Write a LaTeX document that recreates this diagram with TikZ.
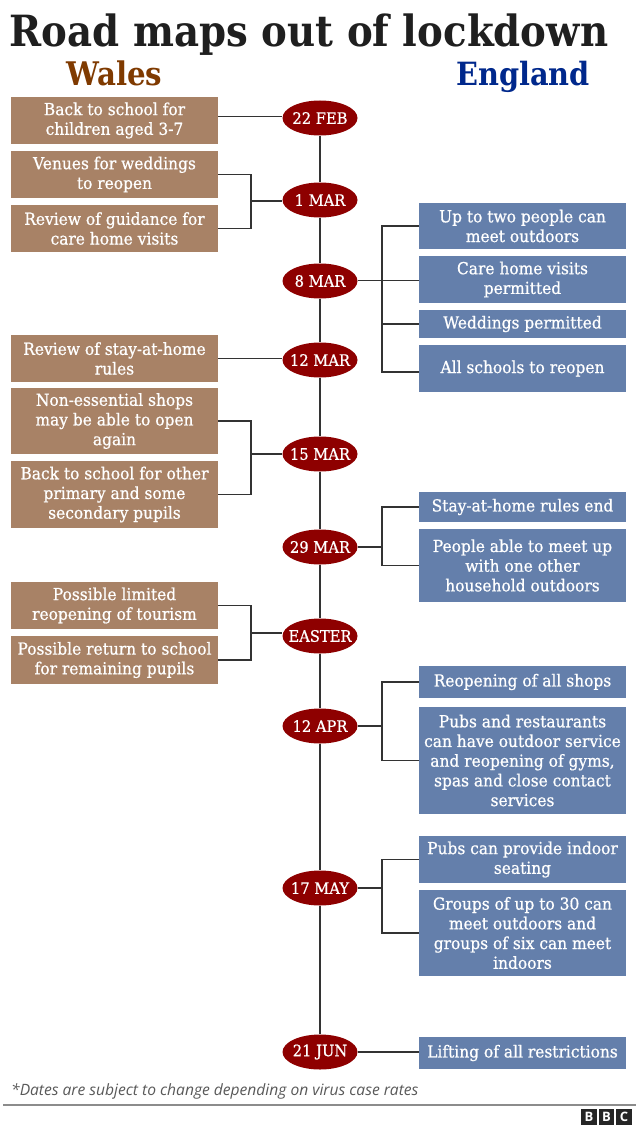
\documentclass[tikz,border=0pt]{standalone}
\usepackage{fontspec}
\setmainfont{DejaVu Serif}[FakeStretch=0.93,FakeBold=0.7]
\newfontfamily\headfont{DejaVu Serif Bold}[FakeStretch=0.9]
\setsansfont{Open Sans}
\usetikzlibrary{shapes.geometric}
\definecolor{tan}{HTML}{A88266}
\definecolor{slate}{HTML}{647FAB}
\definecolor{datered}{HTML}{8E0000}
\definecolor{linegrey}{HTML}{333333}
\definecolor{walesbrown}{HTML}{7F3A00}
\definecolor{engblue}{HTML}{00288C}
\newcommand{\dt}[1]{\makebox[0pt]{\raisebox{-0.6pt}{#1}}}
\tikzset{
  x=1pt,y=-1pt,
  boxbase/.style={anchor=center,inner sep=0pt,minimum width=207pt,align=center,text=white,
    font=\fontsize{16.6}{19.7}\selectfont},
  walesbox/.style={boxbase,fill=tan},
  engbox/.style={boxbase,fill=slate},
  datenode/.style={ellipse,fill=datered,text=white,inner sep=0pt,minimum width=75pt,minimum height=35pt,
    font=\fontsize{15.8}{18}\selectfont},
  conn/.style={draw=linegrey,line width=1.5pt},
  logosq/.style={fill=black!85,text=white,inner sep=0pt,minimum size=15.5pt,font=\sffamily\bfseries\fontsize{13}{13}\selectfont}
}
\begin{document}
\begin{tikzpicture}
\useasboundingbox (0,0) rectangle (640,1137);
\fill[white] (0,0) rectangle (640,1137);
\node (title) [anchor=base,text=black!88,font=\headfont\fontsize{43}{46}\selectfont] at (309,47) {Road maps out of lockdown};
\node (wales) [anchor=base,text=walesbrown,font=\headfont\fontsize{32.5}{36}\selectfont] at (114.5,86) {Wales};
\node (england) [anchor=base,text=engblue,font=\headfont\fontsize{32}{36}\selectfont] at (523,86) {England};

% dates
\node[datenode] (d1) at (320,118) {\dt{22 FEB}};
\node[datenode] (d2) at (320,200) {\dt{1 MAR}};
\node[datenode] (d3) at (320,281) {\dt{8 MAR}};
\node[datenode] (d4) at (320,360) {\dt{12 MAR}};
\node[datenode] (d5) at (320,454) {\dt{15 MAR}};
\node[datenode] (d6) at (320,547) {\dt{29 MAR}};
\node[datenode] (d7) at (320,636) {\dt{EASTER}};
\node[datenode] (d8) at (320,726) {\dt{12 APR}};
\node[datenode] (d9) at (320,888) {\dt{17 MAY}};
\node[datenode] (d10) at (320,1052) {\dt{21 JUN}};

% Wales boxes
\node[walesbox,minimum height=47pt] (w1) at (114.5,120.5) {Back to school for\\children aged 3-7};
\node[walesbox,minimum height=47pt] (w2) at (114.5,174.5) {Venues for weddings\\to reopen};
\node[walesbox,minimum height=47pt] (w3) at (114.5,228.5) {Review of guidance for\\care home visits};
\node[walesbox,minimum height=47pt] (w4) at (114.5,358.5) {Review of stay-at-home\\rules};
\node[walesbox,minimum height=66pt] (w5) at (114.5,421) {Non-essential shops\\may be able to open\\again};
\node[walesbox,minimum height=67pt] (w6) at (114.5,494.5) {Back to school for other\\primary and some\\secondary pupils};
\node[walesbox,minimum height=47pt] (w7) at (114.5,605.5) {Possible limited\\reopening of tourism};
\node[walesbox,minimum height=48pt] (w8) at (114.5,660) {Possible return to school\\for remaining pupils};

% England boxes
\node[engbox,minimum height=46pt] (e1) at (522.5,226) {Up to two people can\\meet outdoors};
\node[engbox,minimum height=47pt] (e2) at (522.5,279.5) {Care home visits\\permitted};
\node[engbox,minimum height=28pt] (e3) at (522.5,324) {Weddings permitted};
\node[engbox,minimum height=47pt] (e4) at (522.5,368.5) {All schools to reopen};
\node[engbox,minimum height=30pt] (e5) at (522.5,507) {Stay-at-home rules end};
\node[engbox,minimum height=73pt] (e6) at (522.5,565.5) {People able to meet up\\with one other\\household outdoors};
\node[engbox,minimum height=32pt] (e7) at (522.5,682) {Reopening of all shops};
\node[engbox,minimum height=107pt] (e8) at (522.5,760.5) {Pubs and restaurants\\can have outdoor service\\and reopening of gyms,\\spas and close contact\\services};
\node[engbox,minimum height=47pt] (e9) at (522.5,859.5) {Pubs can provide indoor\\seating};
\node[engbox,minimum height=86pt] (e10) at (522.5,933) {Groups of up to 30 can\\meet outdoors and\\groups of six can meet\\indoors};
\node[engbox,minimum height=32pt] (e11) at (522.5,1053) {Lifting of all restrictions};

% junctions
\coordinate (jw1) at (218,116.5);
\coordinate (jw2) at (251,201);
\coordinate (jw5) at (251,454);
\coordinate (jw7) at (251,633);
\coordinate (je3) at (382,280.5);
\coordinate (je4) at (419,372);
\coordinate (je6) at (382,547);
\coordinate (je8) at (382,726);
\coordinate (je9) at (382,888);

% timeline
\foreach \a/\b in {d1/d2,d2/d3,d3/d4,d4/d5,d5/d6,d6/d7,d7/d8,d8/d9,d9/d10}
  \draw[conn] (\a.south) -- (\b.north);

% connectors
\draw[conn] (jw1) -- (d1.west |- jw1);
\draw[conn] (w2.east) -| (jw2) |- (w3.east);
\draw[conn] (jw2) -- (d2.west |- jw2);
\draw[conn] (w4.east) -- (d4.west |- w4.east);
\draw[conn] (w5.east) -| (jw5) |- (w6.east);
\draw[conn] (jw5) -- (d5.west);
\draw[conn] (w7.east) -| (jw7) |- (w8.east);
\draw[conn] (jw7) -- (d7.west |- jw7);
\draw[conn] (e1.west) -| (je3) |- (je4);
\draw[conn] (je3) -- (d3.east |- je3);
\draw[conn] (je3) -- (e2.west |- je3);
\draw[conn] (je3 |- e3.west) -- (e3.west);
\draw[conn] (e5.west) -| (je6) |- (e6.west);
\draw[conn] (je6) -- (d6.east);
\draw[conn] (e7.west) -| (je8) |- (e8.west);
\draw[conn] (je8) -- (d8.east);
\draw[conn] (e9.west) -| (je9) |- (e10.west);
\draw[conn] (je9) -- (d9.east);
\draw[conn] (d10.east) -- (e11.west |- d10.east);

% footer
\node (note) [anchor=west,inner sep=0pt,text=black!65,font=\sffamily\itshape\fontsize{15.6}{18}\selectfont] at (11,1091.5) {*Dates are subject to change depending on virus case rates};
\coordinate (ruleL) at (3,1105);
\coordinate (ruleR) at (636,1105);
\draw[draw=black!45,line width=1.2pt] (ruleL) -- (ruleR);
\node[logosq] (b1) at (589,1117) {B};
\node[logosq] (b2) at (606.5,1117) {B};
\node[logosq] (c1) at (624,1117) {C};
\end{tikzpicture}
\end{document}
